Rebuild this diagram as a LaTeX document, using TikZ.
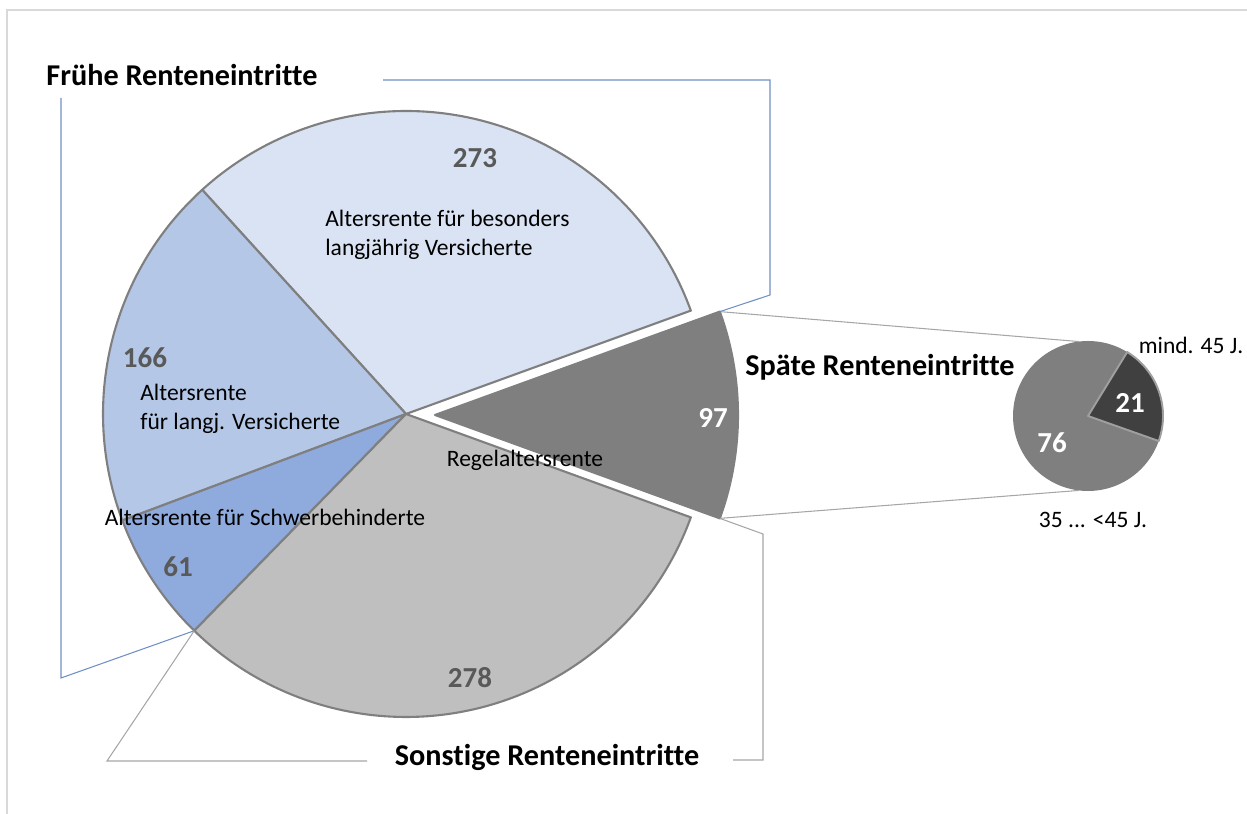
\documentclass[tikz,border=0pt]{standalone}
\usepackage{fontspec}
\setmainfont{Carlito}[Ligatures=NoCommon]
\usetikzlibrary{positioning,calc}
\definecolor{fruehA}{HTML}{DAE3F3}
\definecolor{fruehB}{HTML}{B4C7E7}
\definecolor{fruehC}{HTML}{8FAADC}
\definecolor{sonstig}{HTML}{BFBFBF}
\definecolor{spaet}{HTML}{7F7F7F}
\definecolor{spaetdark}{HTML}{404040}
\definecolor{numgray}{HTML}{595959}
\definecolor{braceblue}{HTML}{6F8FC4}
\definecolor{linkgray}{HTML}{A6A6A6}
\definecolor{framegray}{HTML}{D9D9D9}
\newcommand{\numfont}{\fontsize{16.5pt}{19pt}\selectfont\bfseries}
\newcommand{\lblfont}{\fontsize{13.4pt}{16.8pt}\selectfont}
\newcommand{\ttlfont}{\fontsize{17.2pt}{20pt}\selectfont\bfseries}
\tikzset{
  slice/.style={draw=spaet, line width=1.2pt, line join=round},
  num/.style={font=\numfont, text=numgray, inner sep=0pt},
  lbl/.style={font=\lblfont, align=left, inner sep=0pt},
  ttl/.style={font=\ttlfont, inner sep=0pt},
  brace/.style={draw=braceblue, line width=0.6pt},
  link/.style={draw=linkgray, line width=0.6pt},
}

\begin{document}
\begin{tikzpicture}[x=0.02cm, y=0.02cm]
  \useasboundingbox (0,0) rectangle (1247,814);
  \draw[framegray, line width=0.6pt] (7,0) -- (7,804) -- (1247,804);

  \coordinate (c) at (406,400);
  \coordinate (c97) at (435,399);
  \coordinate (cs) at (1088,398);

  % main pie
  \filldraw[slice, fill=fruehA] (c) -- ++(19.95:303) arc[start angle=19.95, end angle=132.27, radius=303] -- cycle;
  \filldraw[slice, fill=fruehB] (c) -- ++(132.27:303) arc[start angle=132.27, end angle=200.57, radius=303] -- cycle;
  \filldraw[slice, fill=fruehC] (c) -- ++(200.57:303) arc[start angle=200.57, end angle=225.67, radius=303] -- cycle;
  \filldraw[slice, fill=sonstig] (c) -- ++(225.67:303) arc[start angle=225.67, end angle=340.05, radius=303] -- cycle;
  \filldraw[slice, fill=spaet] (c97) -- ++(-19.95:303) arc[start angle=-19.95, end angle=19.95, radius=303] -- cycle;

  \coordinate (p97n) at ($(c97)+(19.95:303)$);
  \coordinate (p97s) at ($(c97)+(-19.95:303)$);
  \coordinate (p61) at ($(c)+(225.67:303)$);

  % small pie
  \fill[spaet] (cs) circle[radius=75];
  \filldraw[fill=spaetdark, draw=gray!75, line width=1.1pt, line join=round] (cs) -- ++(-19.5:75) arc[start angle=-19.5, end angle=58.5, radius=75] -- cycle;
  \coordinate (csn) at ($(cs)+(97:75)$);
  \coordinate (css) at ($(cs)+(-97:75)$);

  \draw[link] (p97n) -- (csn);
  \draw[link] (p97s) -- (css);

  % brackets
  \coordinate (fa) at (61,716);
  \coordinate (fb) at (61,136);
  \coordinate (fc) at (383,734);
  \coordinate (fd) at (770,734);
  \coordinate (fe) at (770,519);
  \draw[brace] (fa) -- (fb) -- (p61);
  \draw[brace] (fc) -- (fd) -- (fe) -- (p97n);
  \coordinate (sa) at (107,53);
  \coordinate (sb) at (367,53);
  \coordinate (sc) at (763,280);
  \coordinate (sd) at (763,54);
  \coordinate (se) at (733,54);
  \draw[link] (p61) -- (sa) -- (sb);
  \draw[link] (p97s) -- (sc) -- (sd) -- (se);

  % numbers
  \node[num] (n273) at (475,656) {273};
  \node[num] (n166) at (145,456) {166};
  \node[num] (n61) at (178,247) {61};
  \node[num] (n278) at (470,136) {278};
  \node[num, text=white] (n97) at (713,396) {97};
  \node[num, text=white] (n21) at (1130,411) {21};
  \node[num, text=white] (n76) at (1052,371) {76};

  % labels
  \node[lbl, anchor=west] (besonders) at (325,579) {Altersrente für besonders\\langjährig Versicherte};
  \node[lbl, anchor=west] (langj) at (140,405) {Altersrente\\für langj. Versicherte};
  \node[lbl] (schwer) at (265,297) {Altersrente für Schwerbehinderte};
  \node[lbl] (regel) at (525,354) {Regelaltersrente};
  \node[lbl] (mind) at (1191,469) {mind. 45 J.};
  \node[lbl] (unter) at (1093,294) {35 ... <45 J.};

  % titles
  \node[ttl] (fruehe) at (182,739) {Frühe Renteneintritte};
  \node[ttl] (spaete) at (880,447) {Späte Renteneintritte};
  \node[ttl] (sonstige) at (547,57) {Sonstige Renteneintritte};
\end{tikzpicture}
\end{document}
